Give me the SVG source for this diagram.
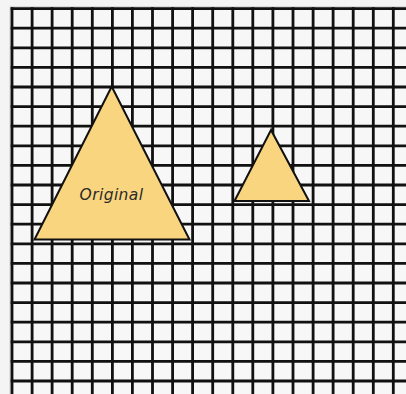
<svg xmlns="http://www.w3.org/2000/svg" width="406" height="394" viewBox="0 0 406 394">
<style>
.grid{stroke:#111;stroke-width:2.8;fill:none}
.tri{fill:#f8d57e;stroke:#111;stroke-width:2;stroke-linejoin:miter}
.lbl{font-family:"DejaVu Sans",sans-serif;font-style:italic;font-size:15.5px;letter-spacing:0.4px;fill:#2a2a2a}
</style>
<rect width="406" height="394" fill="#f4f4f4"/>
<rect x="10" y="6.8" width="397" height="389" fill="none" stroke="#cfcfcf" stroke-width="1"/>
<rect x="12" y="8.6" width="396" height="388" fill="#f7f7f7"/>
<g id="grid">
<path class="grid" d="M12 7.3V394 M32.1 7.3V394 M52.1 7.3V394 M72.2 7.3V394 M92.3 7.3V394 M112.4 7.3V394 M132.4 7.3V394 M152.5 7.3V394 M172.6 7.3V394 M192.6 7.3V394 M212.7 7.3V394 M232.8 7.3V394 M252.8 7.3V394 M272.9 7.3V394 M293 7.3V394 M313.1 7.3V394 M333.1 7.3V394 M353.2 7.3V394 M373.3 7.3V394 M393.3 7.3V394"/>
<path class="grid" d="M10.7 8.6H406 M10.7 28.2H406 M10.7 47.8H406 M10.7 67.4H406 M10.7 87H406 M10.7 106.6H406 M10.7 126.2H406 M10.7 145.8H406 M10.7 165.4H406 M10.7 185H406 M10.7 204.6H406 M10.7 224.2H406 M10.7 243.8H406 M10.7 263.4H406 M10.7 283H406 M10.7 302.6H406 M10.7 322.2H406 M10.7 341.8H406 M10.7 361.4H406 M10.7 381H406"/>
</g>
<g id="original">
<polygon class="tri" points="111.7,86.5 34.5,239.5 189.5,239.5"/>
<text class="lbl" x="111.5" y="200" text-anchor="middle">Original</text>
</g>
<g id="scaled">
<polygon class="tri" points="271,130 234.5,201 309,201"/>
</g>
</svg>
